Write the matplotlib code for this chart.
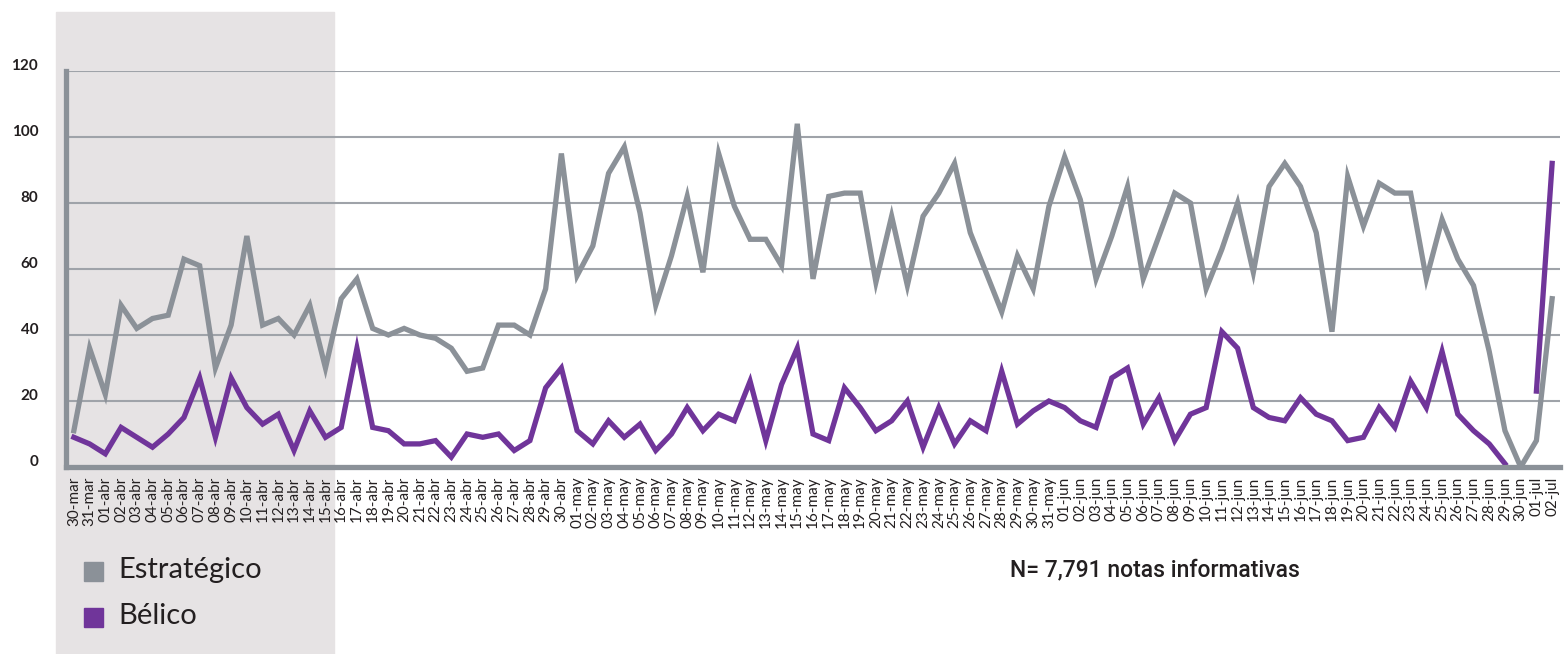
import matplotlib
matplotlib.use("Agg")
import matplotlib.pyplot as plt
import matplotlib.transforms as mtransforms
from matplotlib.patches import Rectangle
import numpy as np
import pandas as pd

# categorias: un dia por etiqueta, 30-mar a 02-jul
meses = {3: "mar", 4: "abr", 5: "may", 6: "jun", 7: "jul"}
fechas = pd.date_range("2020-03-30", "2020-07-02", freq="D")
etiquetas = ["%02d-%s" % (d.day, meses[d.month]) for d in fechas]

estrategico = [11, 36, 22, 49, 42, 45, 46, 63, 61, 30,
               43, 70, 43, 45, 40, 49, 30, 51, 57, 42,
               40, 42, 40, 39, 36, 29, 30, 43, 43, 40,
               54, 95, 58, 67, 89, 97, 77, 49, 64, 82,
               59, 95, 79, 69, 69, 61, 104, 57, 82, 83,
               83, 56, 76, 55, 76, 83, 92, 71, 59, 47,
               64, 54, 79, 94, 81, 57, 70, 85, 57, 70,
               83, 80, 54, 66, 80, 59, 85, 92, 85, 71,
               41, 88, 73, 86, 83, 83, 57, 75, 63, 55,
               35, 11, 0, 8, 51]

belico = [9, 7, 4, 12, 9, 6, 10, 15, 27, 9,
          27, 18, 13, 16, 5, 17, 9, 12, 36, 12,
          11, 7, 7, 8, 3, 10, 9, 10, 5, 8,
          24, 30, 11, 7, 14, 9, 13, 5, 10, 18,
          11, 16, 14, 26, 8, 25, 36, 10, 8, 24,
          18, 11, 14, 20, 6, 18, 7, 14, 11, 29,
          13, 17, 20, 18, 14, 12, 27, 30, 13, 21,
          8, 16, 18, 41, 36, 18, 15, 14, 21, 16,
          14, 8, 9, 18, 12, 26, 18, 35, 16, 11,
          7, 1, np.nan, 23, 92]

yticks = [0, 20, 40, 60, 80, 100, 120]

gris = "#8b9198"
morado = "#70359a"
texto = "#231f20"

fig = plt.figure(figsize=(15.68, 6.54), dpi=100)
W, H = 1568, 654

# banda sombreada del fondo
fig.patches.append(Rectangle((56 / W, 0), (334 - 56) / W, (654 - 12) / H,
                             transform=fig.transFigure, color="#e6e3e4", zorder=-5))

ax = fig.add_axes([66 / W, (H - 467) / H, (1560 - 66) / W, (467 - 71) / H])
ax.set_facecolor("none")
ax.set_zorder(1)

x = np.arange(len(etiquetas))
ax.plot(x, estrategico, color=gris, lw=3.8, solid_joinstyle="miter", zorder=3)
ax.plot(x, belico, color=morado, lw=3.8, solid_joinstyle="miter", zorder=4)

ax.set_xlim(-0.5, len(etiquetas) - 0.5)
ax.set_ylim(0, 120)
ax.set_yticks(yticks)
ax.yaxis.grid(True, color="#9fa3a9", lw=1.5, zorder=1)
ax.set_axisbelow(True)

for s in ["top", "right"]:
    ax.spines[s].set_visible(False)
for s in ["left", "bottom"]:
    ax.spines[s].set_color(gris)
    ax.spines[s].set_linewidth(3.8)
    ax.spines[s].set_zorder(5)

ax.set_xticks(x)
ax.set_xticklabels(etiquetas, rotation=90, fontsize=11, family="Lato", color=texto)
ax.tick_params(axis="x", length=0, pad=7)
ax.tick_params(axis="y", length=0, pad=20)
for lab in ax.get_yticklabels():
    lab.set_family("Lato")
    lab.set_fontweight("bold")
    lab.set_fontsize(11)
    lab.set_color(texto)
    lab.set_transform(lab.get_transform() +
                      mtransforms.ScaledTranslation(0, 6 / 100, fig.dpi_scale_trans))

# leyenda manual
fig.patches.append(Rectangle((84 / W, (H - 581) / H), 19 / W, 19 / H,
                             transform=fig.transFigure, color=gris, zorder=2))
fig.patches.append(Rectangle((84 / W, (H - 627) / H), 19 / W, 19 / H,
                             transform=fig.transFigure, color=morado, zorder=2))
fig.text(118 / W, (H - 570) / H, "Estratégico", fontsize=21, family="Lato",
         color=texto, va="center", ha="left")
fig.text(118 / W, (H - 616) / H, "Bélico", fontsize=21, family="Lato",
         color=texto, va="center", ha="left")

fig.text(1155 / W, (H - 570) / H, "N= 7,791 notas informativas", fontsize=16.5,
         family="Roboto", fontweight="medium", color=texto, va="center", ha="center")

fig.savefig("out.png", dpi=100)
